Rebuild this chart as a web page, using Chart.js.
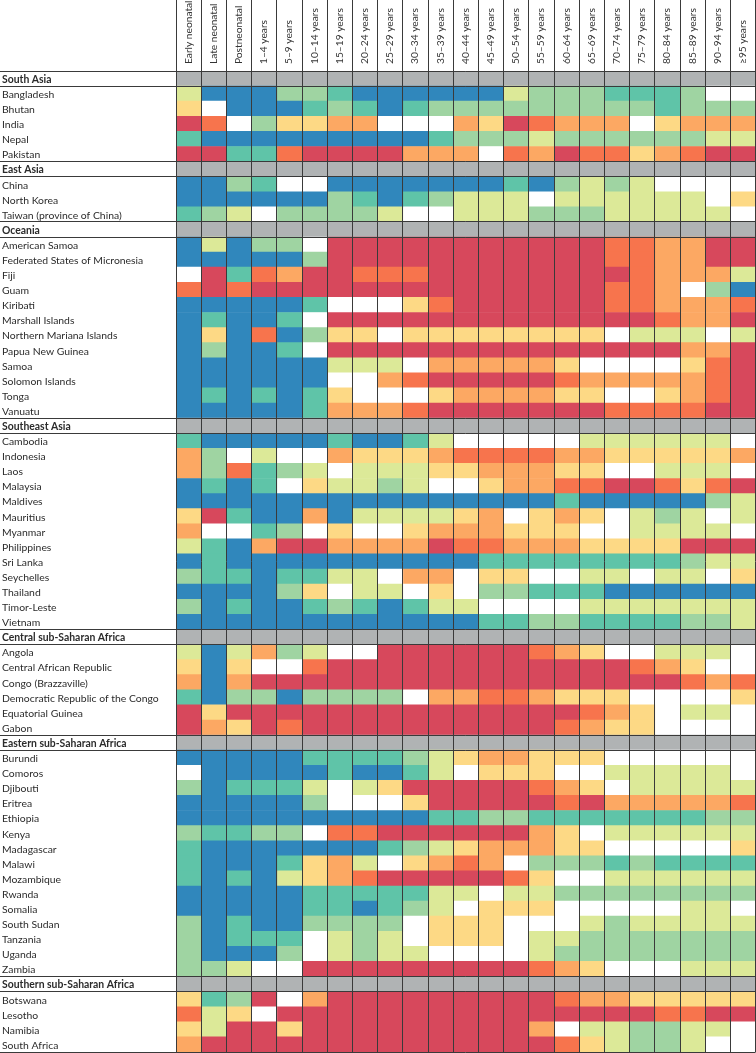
<!DOCTYPE html>
<html>
<head>
<meta charset="utf-8">
<style>html,body{margin:0;padding:0;background:#fff}canvas{display:block}</style>
<script src="https://cdn.jsdelivr.net/npm/chart.js@4"></script>
</head>
<body>
<canvas id="c" width="756" height="1053"></canvas>
<script>
const ageGroups = ["Early neonatal","Late neonatal","Postneonatal","1–4 years","5–9 years","10–14 years","15–19 years","20–24 years","25–29 years","30–34 years","35–39 years","40–44 years","45–49 years","50–54 years","55–59 years","60–64 years","65–69 years","70–74 years","75–79 years","80–84 years","85–89 years","90–94 years","≥95 years"];

const rowLabels = ["South Asia","Bangladesh","Bhutan","India","Nepal","Pakistan",
"East Asia","China","North Korea","Taiwan (province of China)",
"Oceania","American Samoa","Federated States of Micronesia","Fiji","Guam","Kiribati","Marshall Islands","Northern Mariana Islands","Papua New Guinea","Samoa","Solomon Islands","Tonga","Vanuatu",
"Southeast Asia","Cambodia","Indonesia","Laos","Malaysia","Maldives","Mauritius","Myanmar","Philippines","Sri Lanka","Seychelles","Thailand","Timor-Leste","Vietnam",
"Central sub-Saharan Africa","Angola","Central African Republic","Congo (Brazzaville)","Democratic Republic of the Congo","Equatorial Guinea","Gabon",
"Eastern sub-Saharan Africa","Burundi","Comoros","Djibouti","Eritrea","Ethiopia","Kenya","Madagascar","Malawi","Mozambique","Rwanda","Somalia","South Sudan","Tanzania","Uganda","Zambia",
"Southern sub-Saharan Africa","Botswana","Lesotho","Namibia","South Africa"];

// One string per row, one letter per age group. "" marks a region heading row.
const rowLevels = ["",
"LBBBGGTBBBBBBLGGGTTTGWW",
"YWBBBTGTBTGGGGGGGGGTGGG",
"CRWGYYOOWWWOYCROOOWYOOO",
"TBBBBBBBBBTGGGLGGGGGGLL",
"CCTTRCCCCOOOWROCRRYORCC",
"",
"BBGTWWBBBBBBBTBGLGLWWWW",
"BBBBBBGTBTGLLLWLLLLLLWY",
"TGLWGGGGLWWLLLGGGLLLLLW",
"",
"BLBGGWCCCCCCCCCCCRROOCC",
"BBBBBGCCCCCCCCCCCRROOCC",
"WCTROCCRRRCCCCCCCCROOOL",
"RCRCCCCCCCCCCCCCCRROWGB",
"BBBBBTWWWYRCCCCCCRROOOR",
"BTBBTWCCCCCCCCCCCCCROOC",
"BYBRBGYYWYYYYYYYYWLLLWL",
"BGBBTWCCCCCCCCCCCCCCOOC",
"BBBBBBLLLWOOOOOYWWWWYRC",
"BBBBBBWWORCCCCCROOOOORC",
"BTBTBTYWWWYOOOOYYWWYORC",
"BBBBBTOOORCCCCCCCRRRRCC",
"",
"TBBBBBTBBTLWWWWWLLLLLLW",
"OGWLWWOYYYORRRROOYYYYYO",
"OGRTGLWLLLYYOOOYYWWLLLW",
"BTBTWYLLGLWWYOORRCCRYRC",
"BBBBBBBBBBBBBBBTBBBBBGL",
"YCTBBOBLLLLYOWYOYWLGLWL",
"OWWTGWYWWYOOOYYYWWLLLLW",
"LTBOCCOOOOCRROOOYYYYCCC",
"BTBBBBBBBBBBTTTTTTTTGLL",
"GTTBTTLLWOOWYYWWLLWLLWY",
"BBBBGYWLLWYWGGTTTBBBBBB",
"GBTBBTGTBTLLWWWWLLLLLLL",
"BBBBBBBBBBBBTTGGTTTTGGL",
"",
"LBLOGLWWCCCCCCROYWWLLLW",
"YBYWWRCCCCCCCCCCCCROYWW",
"OBOCCCCCCCCCCCCCCCCCROR",
"TBGGBGGGGWOORROYYYWWWWY",
"CYCCCCCCCCCCCCCCROYWLLW",
"COYCRCCCCCCCCCCROYYWWWW",
"",
"BBBBBTTTTGLYOOYYYWWWWWW",
"WBBBBBTBBTLWYYYWWLLLLLW",
"GBTTTLWLYCCCCCROYWLLLLL",
"BBBBBGWWWYCCCCCRCOOOOOR",
"BBBBBBBBBBTTGGTTTTTTTGG",
"GTTGGWRRCCCCCCOYWLLLLLL",
"TBBBBBBBTGLYOOOYYWWWWWY",
"TBBBTYOLWYOROWGGGTGTTTT",
"TBTBLYORCCCCCRYWWLLLLLL",
"BBBBBTTTTTLLWLLGGGGGGGG",
"BBBBBTTBTGLWYYYWWWWWLLW",
"GBTBBGGGGWYYYWWWLGLLLLL",
"GBTTTWLGLWYYYWLLGGGGGGG",
"GBBBGWLGLLWWWWLGGGGGGGG",
"GGLWWCCCCCCCCCROYWWWLLL",
"",
"YTGCWOCCCCCCCCCROOYYYYY",
"RLYWCCCCCCCCCCCCCCCRRCC",
"YLCCYCCCCCCCCCOWLLGGLLW",
"OCCCCCCCCCCCCCCRYLGGLWW"];

const levelColours = {B:"#3087bc",T:"#5fc4a8",G:"#9fd4a2",L:"#dce998",Y:"#fdd985",O:"#fca863",R:"#f7744d",C:"#d7485c",W:"#ffffff"};
const headingColour = "#b0b3b4";
const lineColour = "#3a3a3a";
const textFamily = "Lato, 'Noto Sans', sans-serif";

const isHeading = rowLevels.map(s => s === "");
const cellColour = (r, c) => isHeading[r] ? headingColour : levelColours[rowLevels[r][c]];
const onHeadingEdge = i => i === undefined || isHeading[i] || isHeading[i - 1];

new Chart(document.getElementById("c"), {
  type: "bar",
  data: {
    labels: rowLabels,
    datasets: ageGroups.map((age, c) => ({
      label: age,
      data: rowLabels.map(() => [c, c + 1]),
      backgroundColor: rowLabels.map((_, r) => cellColour(r, c)),
      borderWidth: 0,
      barPercentage: 1,
      categoryPercentage: 1,
      grouped: false
    }))
  },
  options: {
    indexAxis: "y",
    responsive: false,
    animation: false,
    events: [],
    layout: { padding: { right: 0.4, bottom: 1 } },
    plugins: { legend: { display: false }, tooltip: { enabled: false } },
    scales: {
      x: {
        type: "linear",
        position: "top",
        min: 0,
        max: ageGroups.length,
        afterFit: s => { s.height = 71; },
        afterBuildTicks: s => { s.ticks = ageGroups.map((_, i) => ({ value: i })).concat({ value: ageGroups.length }); },
        border: { display: false },
        grid: { color: lineColour, lineWidth: 1, z: 1, tickLength: 71, tickColor: lineColour, tickWidth: 1 },
        ticks: {
          autoSkip: false, minRotation: 90, maxRotation: 90,
          padding: -64, labelOffset: 24.5,
          color: "#333",
          font: { family: textFamily, size: 10.2 },
          callback: v => ageGroups[v] || ""
        }
      },
      y: {
        type: "category",
        position: "left",
        afterFit: s => { s.width = 176; },
        border: { display: false },
        grid: {
          z: 1, offset: true, tickLength: 176,
          color: c => onHeadingEdge(c.index) ? lineColour : "rgba(0,0,0,0)",
          tickColor: c => onHeadingEdge(c.index) ? lineColour : "rgba(0,0,0,0)",
          lineWidth: c => onHeadingEdge(c.index) ? 1 : 0,
          tickWidth: c => onHeadingEdge(c.index) ? 1 : 0
        },
        ticks: {
          autoSkip: false, mirror: true, crossAlign: "near", padding: -174, labelOffset: 1,
          color: "#2b2b2b",
          font: c => ({ family: textFamily, size: 10.4, weight: isHeading[c.index] ? "700" : "400" })
        }
      }
    }
  }
});
</script>
</body>
</html>
